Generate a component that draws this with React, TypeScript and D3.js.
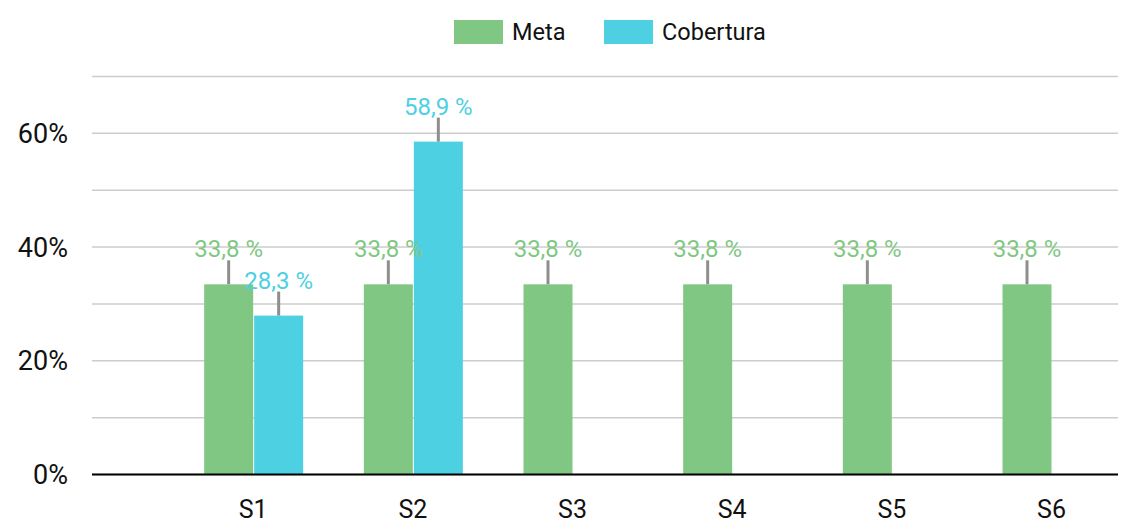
import React from "react";
import * as d3 from "d3";

const categories = ["S1", "S2", "S3", "S4", "S5", "S6"];
const metaValues = [33.8, 33.8, 33.8, 33.8, 33.8, 33.8];
const coberturaValues: (number | null)[] = [28.3, 58.9, null, null, null, null];
const yTicks = [0, 20, 40, 60];
const gridTicks = [0, 10, 20, 30, 40, 50, 60, 70];
const seriesNames = ["Meta", "Cobertura"];

const W = 1123;
const H = 524;
const GREEN = "#81c784";
const CYAN = "#4dd0e1";
const FONT = "Roboto, sans-serif";

export default function App() {
  const x = d3.scalePoint<string>().domain(["", ...categories]).range([93.5, 1051.5]);
  const y = d3.scaleLinear().domain([0, 70]).range([474.5, 76.5]);
  const barW = 49;
  const inset = 2;
  const fmt = (v: number) => v.toFixed(1).replace(".", ",") + " %";

  const bars: { key: string; x: number; v: number; color: string }[] = [];
  categories.forEach((c, i) => {
    const cx = x(c)!;
    bars.push({ key: c + "m", x: cx - barW, v: metaValues[i], color: GREEN });
    const cv = coberturaValues[i];
    if (cv != null) bars.push({ key: c + "c", x: cx + 1, v: cv, color: CYAN });
  });

  return (
    <svg width={W} height={H} style={{ position: "absolute", left: 0, top: 0 }} fontFamily={FONT}>
      <rect width={W} height={H} fill="#fff" />
      {gridTicks.map((t) => (
        <line key={t} x1={92} x2={1118} y1={y(t)} y2={y(t)} stroke="#cccccc" strokeWidth={1.5} />
      ))}
      {yTicks.map((t) => (
        <text key={t} x={68} y={y(t) + 9.5} textAnchor="end" fontSize={27} fill="#111">
          {t}%
        </text>
      ))}
      {bars.map((b) => (
        <rect key={b.key} x={b.x} y={y(b.v) + inset} width={barW} height={y(0) - y(b.v) - inset} fill={b.color} />
      ))}
      {bars.map((b) => (
        <g key={b.key + "l"}>
          <line x1={b.x + barW / 2} x2={b.x + barW / 2} y1={y(b.v) + inset} y2={y(b.v) + inset - 24} stroke="#8e8e8e" strokeWidth={3} />
          <text x={b.x + barW / 2} y={y(b.v) + inset - 27} textAnchor="middle" fontSize={24} fill={b.color}>
            {fmt(b.v)}
          </text>
        </g>
      ))}
      <line x1={92} x2={1118} y1={y(0)} y2={y(0)} stroke="#000" strokeWidth={2} />
      {categories.map((c) => (
        <text key={c} x={x(c)!} y={518} textAnchor="middle" fontSize={25} fill="#111">
          {c}
        </text>
      ))}
      {seriesNames.map((s, i) => {
        const lx = i === 0 ? 454 : 604;
        return (
          <g key={s}>
            <rect x={lx} y={20} width={49} height={24} fill={i === 0 ? GREEN : CYAN} />
            <text x={lx + 58} y={40} fontSize={23.5} fill="#111">
              {s}
            </text>
          </g>
        );
      })}
    </svg>
  );
}
